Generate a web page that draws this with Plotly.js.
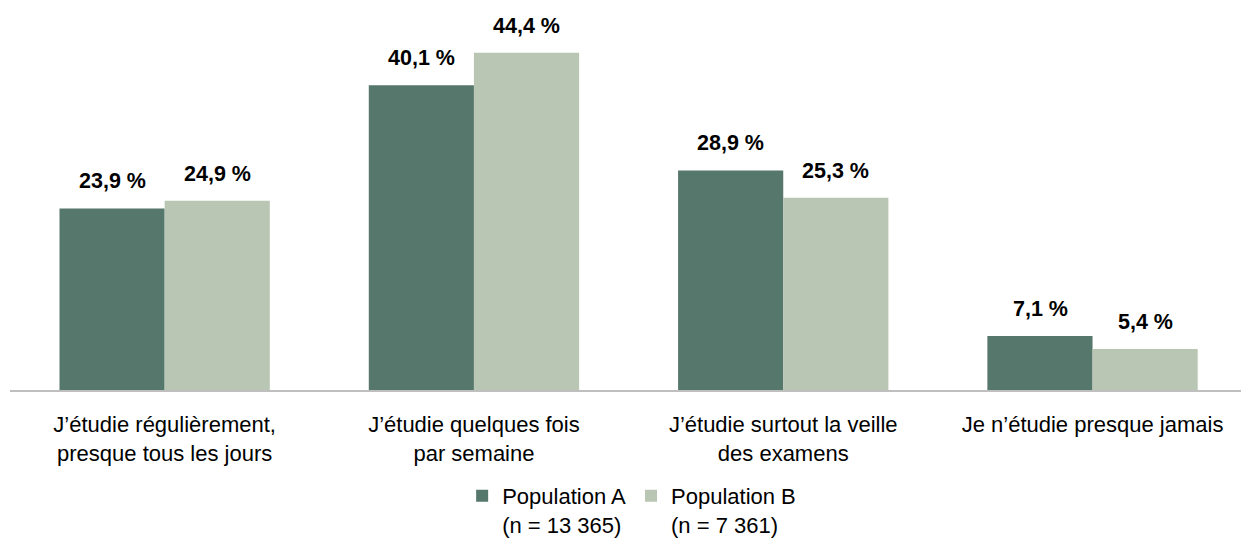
<!DOCTYPE html>
<html>
<head>
<meta charset="utf-8">
<script src="https://cdn.plot.ly/plotly-3.0.1.min.js"></script>
<style>
html,body{margin:0;padding:0;background:#fff;}
#chart{width:1241px;height:546px;}
</style>
</head>
<body>
<div id="chart"></div>
<script>
const categories = [
  "J’étudie régulièrement,<br>presque tous les jours",
  "J’étudie quelques fois<br>par semaine",
  "J’étudie surtout la veille<br>des examens",
  "Je n’étudie presque jamais"
];
const seriesNames = ["Population A<br>(n = 13 365)", "Population B<br>(n = 7 361)"];
const valuesA = [23.9, 40.1, 28.9, 7.1];
const valuesB = [24.9, 44.4, 25.3, 5.4];
const colors = ["#56776b", "#b9c6b4"];

const FONT = "'Liberation Sans', Arial, sans-serif";
const SZ = 22;
const SZB = 21.5;

const fmt = v => v.toFixed(1).replace('.', ',') + ' %';

const traces = [valuesA, valuesB].map((vals, i) => ({
  type: 'bar',
  name: seriesNames[i],
  x: categories,
  y: vals,
  marker: {color: colors[i], line: {width: 0}},
  hoverinfo: 'none'
}));

const annotations = [];
[valuesA, valuesB].forEach((vals, i) => {
  vals.forEach((v, j) => {
    annotations.push({
      x: categories[j], y: v, xref: 'x', yref: 'y',
      text: fmt(v), showarrow: false,
      xanchor: 'center', yanchor: 'bottom',
      xshift: i === 0 ? -52.5 : 52.5, yshift: 13,
      font: {family: FONT, size: SZB, color: '#000', weight: 700}
    });
  });
});

const layout = {
  width: 1241, height: 546,
  margin: {l: 10, r: 0, t: 20, b: 156},
  paper_bgcolor: '#fff', plot_bgcolor: '#fff',
  barmode: 'group', bargap: 0.32, bargroupgap: 0,
  showlegend: true,
  legend: {
    orientation: 'h', x: 0.505, xanchor: 'center', y: -0.4216, yanchor: 'bottom',
    font: {family: FONT, size: SZ, color: '#000'},
    valign: 'top', itemwidth: 30, traceorder: 'normal'
  },
  xaxis: {
    type: 'category', range: [-0.5, 3.48],
    showline: true, linecolor: '#bfbfbf', linewidth: 2,
    showgrid: false, zeroline: false, ticks: '',
    ticklabelstandoff: 14,
    tickfont: {family: FONT, size: SZ, color: '#000'}
  },
  yaxis: {
    range: [0, 48.7], visible: false, showgrid: false, zeroline: false
  },
  annotations: annotations
};

Plotly.newPlot('chart', traces, layout, {displayModeBar: false, staticPlot: true});
</script>
</body>
</html>
